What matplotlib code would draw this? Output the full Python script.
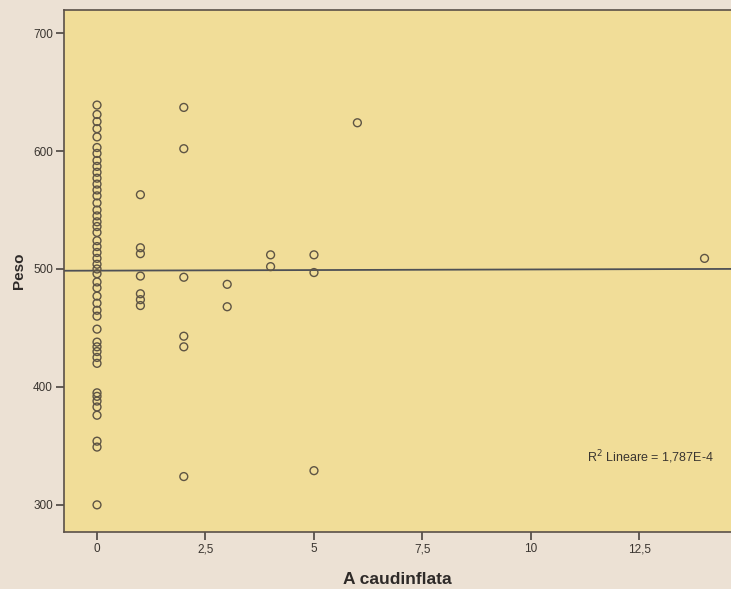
import matplotlib.pyplot as plt
import numpy as np

plt.rcParams['font.family'] = ['Liberation Sans', 'DejaVu Sans']

# A caudinflata count -> Peso values
peso_0 = [639, 631, 625, 619, 612, 603, 598, 592, 587, 582, 577, 572, 567, 562,
          556, 550, 545, 540, 536, 531, 524, 519, 514, 509, 504, 500, 496, 489,
          484, 477, 471, 465, 460, 449, 438, 434, 430, 425, 420, 395, 392, 388,
          383, 376, 354, 349, 300]
peso_1 = [563, 518, 513, 494, 479, 474, 469]
peso_2 = [637, 602, 493, 443, 434, 324]
peso_3 = [487, 468]
peso_4 = [512, 502]
peso_5 = [512, 497, 329]
peso_6 = [624]
peso_14 = [509]

groups = {0: peso_0, 1: peso_1, 2: peso_2, 3: peso_3, 4: peso_4,
          5: peso_5, 6: peso_6, 14: peso_14}
x = np.concatenate([[k] * len(v) for k, v in groups.items()])
y = np.concatenate([v for v in groups.values()])

# linear fit line as printed (nearly flat)
fit_intercept = 498.6
fit_slope = 0.1
r2_text = 'R$^2$ Lineare = 1,787E-4'

xticks = [0, 2.5, 5, 7.5, 10, 12.5]
xtick_labels = ['0', '2,5', '5', '7,5', '10', '12,5']
yticks = [300, 400, 500, 600, 700]

fig = plt.figure(figsize=(7.31, 5.89), dpi=100)
fig.patch.set_facecolor('#ece1d4')
ax = fig.add_axes([0.0876, 0.0968, 0.9124, 0.886])
ax.set_facecolor('#f1dd98')

ax.scatter(x, y, s=32, facecolors='none', edgecolors='#5e5444', linewidths=1.0, zorder=3)

xl = np.array([-0.76, 14.61])
ax.plot(xl, fit_intercept + fit_slope * xl, color='#4e5056', lw=1.3, zorder=2)

ax.text(11.3, 340, r2_text, fontsize=9, color='#3a3530', ha='left', va='center')

ax.set_xlim(-0.76, 14.61)
ax.set_ylim(277, 719.5)
ax.set_xticks(xticks)
ax.set_xticklabels(xtick_labels)
ax.set_yticks(yticks)
ax.tick_params(direction='out', length=6, width=1.2, colors='#4a4440',
               labelsize=8.5, labelcolor='#3a3530', pad=2)

for s in ['left', 'bottom', 'top']:
    ax.spines[s].set_color('#5a5048')
    ax.spines[s].set_linewidth(1.2)
ax.spines['right'].set_visible(False)

ax.set_xlabel('A caudinflata', fontsize=12.5, fontweight='bold', color='#2e2a28', labelpad=12)
ax.set_ylabel('Peso', fontsize=11, fontweight='bold', color='#2e2a28', labelpad=5)

fig.savefig('out.png', dpi=100, facecolor=fig.get_facecolor())
